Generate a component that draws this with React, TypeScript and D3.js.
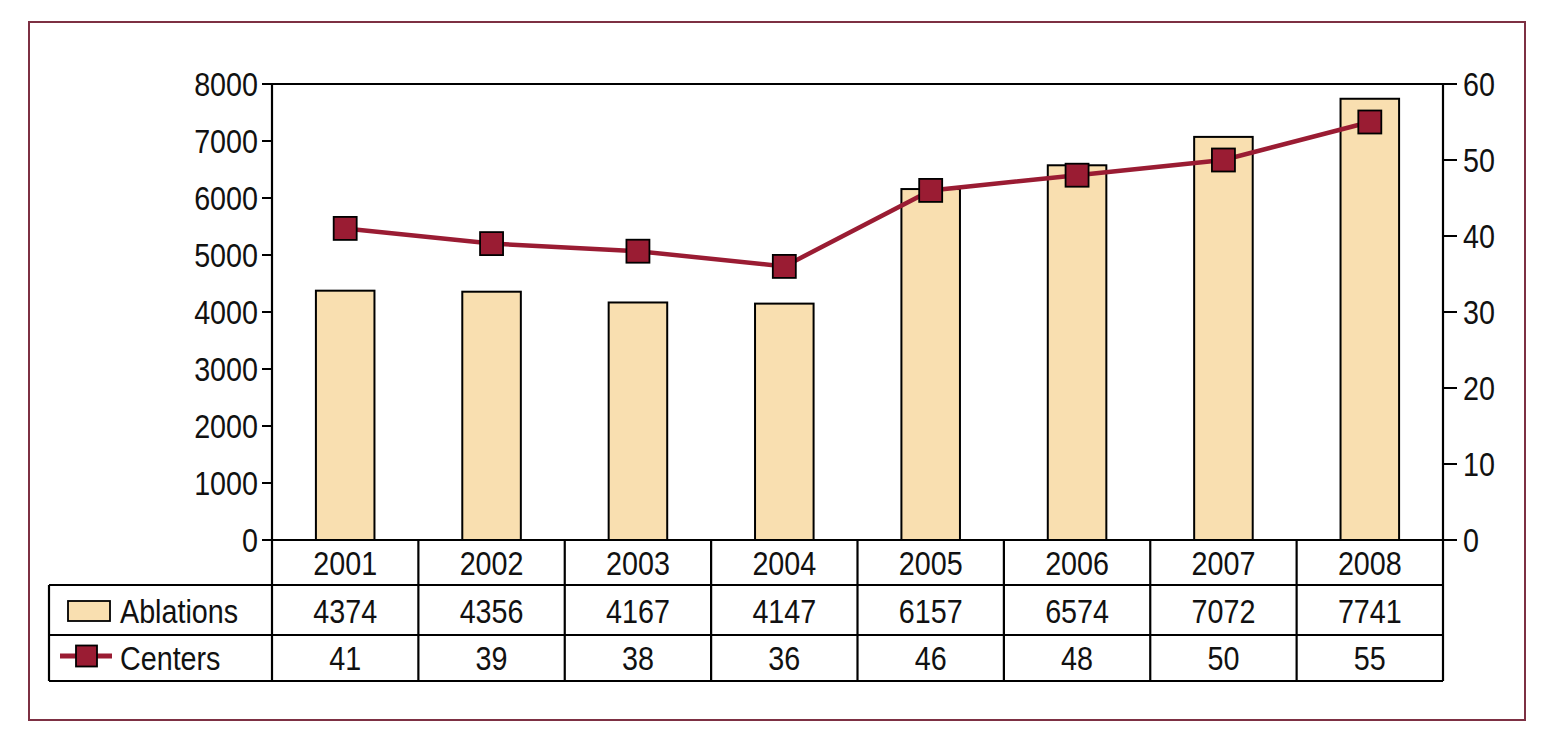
import React from "react";
import * as d3 from "d3";

const years = ["2001", "2002", "2003", "2004", "2005", "2006", "2007", "2008"];
const ablations = [4374, 4356, 4167, 4147, 6157, 6574, 7072, 7741];
const centers = [41, 39, 38, 36, 46, 48, 50, 55];
const leftTicks = [0, 1000, 2000, 3000, 4000, 5000, 6000, 7000, 8000];
const rightTicks = [0, 10, 20, 30, 40, 50, 60];
const seriesNames = ["Ablations", "Centers"];

const W = 1550;
const H = 745;
const plotL = 272;
const plotR = 1443;
const plotT = 84;
const plotB = 540;
const rowBounds = [540, 585, 635, 681];
const tableL = 49;

const BAR_FILL = "#f9dfb0";
const LINE = "#9a1c33";
const FRAME = "#7d3043";
const FONT = "'Liberation Sans', Arial, sans-serif";
const FS = 33;
const SX = 0.87;

function T({ x, y, anchor, children }: { x: number; y: number; anchor: string; children: any }) {
  return (
    <text
      transform={`translate(${x},${y}) scale(${SX},1)`}
      textAnchor={anchor}
      fontFamily={FONT}
      fontSize={FS}
      fill="#111"
    >
      {children}
    </text>
  );
}

export default function App() {
  const x = d3.scaleBand<string>().domain(years).range([plotL, plotR]).paddingInner(0).paddingOuter(0);
  const yL = d3.scaleLinear().domain([0, 8000]).range([plotB, plotT]);
  const yR = d3.scaleLinear().domain([0, 60]).range([plotB, plotT]);
  const bw = x.bandwidth() * 0.4;
  const cx = (y: string) => (x(y) as number) + x.bandwidth() / 2;
  const line = d3
    .line<number>()
    .x((_, i) => cx(years[i]))
    .y((d) => yR(d));
  const ms = 23;

  return (
    <svg width={W} height={H} style={{ position: "absolute", left: 0, top: 0 }}>
      <rect x={0} y={0} width={W} height={H} fill="#fff" />
      <rect x={29} y={22} width={1496} height={698} fill="none" stroke={FRAME} strokeWidth={2} />

      {/* bars */}
      {ablations.map((v, i) => (
        <rect
          key={i}
          x={cx(years[i]) - bw / 2}
          y={yL(v)}
          width={bw}
          height={plotB - yL(v)}
          fill={BAR_FILL}
          stroke="#000"
          strokeWidth={2}
        />
      ))}

      {/* plot frame */}
      <line x1={plotL} x2={plotR} y1={plotT} y2={plotT} stroke="#000" strokeWidth={2} />
      <line x1={plotL} x2={plotL} y1={plotT} y2={plotB} stroke="#000" strokeWidth={2.2} />
      <line x1={plotR} x2={plotR} y1={plotT} y2={plotB} stroke="#000" strokeWidth={2.2} />

      {/* left axis */}
      {leftTicks.map((t) => (
        <g key={t}>
          <line x1={plotL - 10} x2={plotL} y1={yL(t)} y2={yL(t)} stroke="#000" strokeWidth={2} />
          <T x={plotL - 14} y={yL(t) + 12} anchor="end">
            {t}
          </T>
        </g>
      ))}

      {/* right axis */}
      {rightTicks.map((t) => (
        <g key={t}>
          <line x1={plotR} x2={plotR + 14} y1={yR(t)} y2={yR(t)} stroke="#000" strokeWidth={2} />
          <T x={plotR + 20} y={yR(t) + 12} anchor="start">
            {t}
          </T>
        </g>
      ))}

      {/* line series */}
      <path d={line(centers) as string} fill="none" stroke={LINE} strokeWidth={4.5} />
      {centers.map((v, i) => (
        <rect
          key={i}
          x={cx(years[i]) - ms / 2}
          y={yR(v) - ms / 2}
          width={ms}
          height={ms}
          fill={LINE}
          stroke="#000"
          strokeWidth={1.8}
        />
      ))}

      {/* table */}
      <g stroke="#000" strokeWidth={2.2}>
        <line x1={plotL} x2={plotR} y1={rowBounds[0]} y2={rowBounds[0]} />
        <line x1={tableL} x2={plotR} y1={rowBounds[1]} y2={rowBounds[1]} />
        <line x1={tableL} x2={plotR} y1={rowBounds[2]} y2={rowBounds[2]} />
        <line x1={tableL} x2={plotR} y1={rowBounds[3]} y2={rowBounds[3]} />
        <line x1={tableL} x2={tableL} y1={rowBounds[1]} y2={rowBounds[3]} />
        {years.map((yr) => (
          <line key={yr} x1={x(yr) as number} x2={x(yr) as number} y1={rowBounds[0]} y2={rowBounds[3]} />
        ))}
        <line x1={plotR} x2={plotR} y1={rowBounds[0]} y2={rowBounds[3]} />
      </g>
      {years.map((yr, i) => (
        <g key={yr}>
          <T x={cx(yr)} y={575} anchor="middle">
            {yr}
          </T>
          <T x={cx(yr)} y={623} anchor="middle">
            {ablations[i]}
          </T>
          <T x={cx(yr)} y={670} anchor="middle">
            {centers[i]}
          </T>
        </g>
      ))}

      {/* legend in table */}
      <rect x={68} y={601} width={42} height={20} fill={BAR_FILL} stroke="#000" strokeWidth={1.8} />
      <T x={120} y={623} anchor="start">
        {seriesNames[0]}
      </T>
      <line x1={60} x2={112} y1={656} y2={656} stroke={LINE} strokeWidth={5} />
      <rect x={76} y={645.5} width={21} height={21} fill={LINE} stroke="#000" strokeWidth={1.8} />
      <T x={120} y={670} anchor="start">
        {seriesNames[1]}
      </T>
    </svg>
  );
}
